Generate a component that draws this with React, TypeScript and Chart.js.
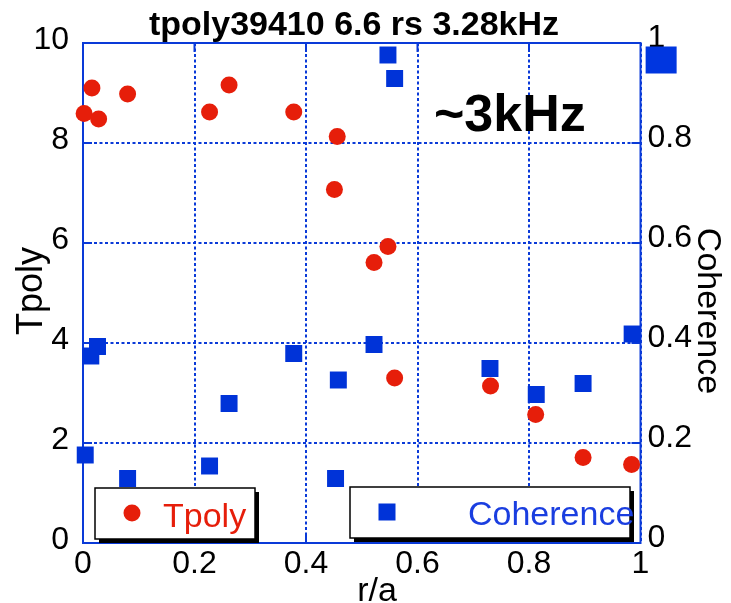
import React, { useEffect, useRef } from 'react';
import { Chart, registerables } from 'chart.js';

Chart.register(...registerables);

// r/a positions and values
const tpolyR = [0.002, 0.016, 0.028, 0.08, 0.227, 0.262, 0.378, 0.456, 0.451, 0.547, 0.522, 0.559, 0.731, 0.812, 0.897, 0.984];
const tpolyValues = [8.59, 9.1, 8.48, 8.98, 8.62, 9.16, 8.62, 8.13, 7.07, 5.93, 5.61, 3.3, 3.14, 2.57, 1.71, 1.57];

const cohR = [0.014, 0.026, 0.004, 0.08, 0.227, 0.262, 0.378, 0.458, 0.453, 0.522, 0.73, 0.813, 0.897, 0.985, 0.547, 0.559];
const cohValues = [0.374, 0.393, 0.176, 0.129, 0.154, 0.279, 0.379, 0.326, 0.129, 0.397, 0.349, 0.297, 0.319, 0.418, 0.976, 0.929];

// stray large marker just outside the right frame
const strayR = [1.037];
const strayValues = [0.966];

const xTicks = [0, 0.2, 0.4, 0.6, 0.8, 1];
const xTickLabels = ['0', '0.2', '0.4', '0.6', '0.8', '1'];
const yTicks = [0, 2, 4, 6, 8, 10];
const yTickLabels = ['0', '2', '4', '6', '8', '10'];
const y2Ticks = [0, 0.2, 0.4, 0.6, 0.8, 1];
const y2TickLabels = ['0', '0.2', '0.4', '0.6', '0.8', '1'];

const titleText = 'tpoly39410 6.6 rs 3.28kHz';
const annotationText = '~3kHz';
const xTitle = 'r/a';
const yTitle = 'Tpoly';
const y2Title = 'Coherence';

const RED = '#e61e0a';
const BLUE = '#0033d8';
const LINE_BLUE = '#0a3ad8';
const FONT = '"Liberation Sans", Arial, Helvetica, sans-serif';

const decorPlugin = {
  id: 'decor',
  beforeDatasetsDraw(chart: any) {
    const { ctx, chartArea: a, scales } = chart;
    ctx.save();
    ctx.strokeStyle = LINE_BLUE;
    ctx.lineWidth = 2;
    ctx.setLineDash([]);
    ctx.strokeRect(a.left, a.top, a.right - a.left, a.bottom - a.top);
    const tl = 9;
    ctx.beginPath();
    xTicks.slice(1, -1).forEach((v) => {
      const px = scales.x.getPixelForValue(v);
      ctx.moveTo(px, a.bottom);
      ctx.lineTo(px, a.bottom - tl);
      ctx.moveTo(px, a.top);
      ctx.lineTo(px, a.top + tl);
    });
    yTicks.slice(1, -1).forEach((v) => {
      const py = scales.y.getPixelForValue(v);
      ctx.moveTo(a.left, py);
      ctx.lineTo(a.left + tl, py);
    });
    y2Ticks.slice(1, -1).forEach((v) => {
      const py = scales.y2.getPixelForValue(v);
      ctx.moveTo(a.right, py);
      ctx.lineTo(a.right - tl, py);
    });
    ctx.stroke();
    ctx.restore();
  },
  afterDraw(chart: any) {
    const { ctx, scales } = chart;
    ctx.save();
    // stray marker outside the frame (positioned through the chart's scales)
    ctx.fillStyle = '#0036e0';
    strayR.forEach((r, i) => {
      const px = scales.x.getPixelForValue(r);
      const py = scales.y2.getPixelForValue(strayValues[i]);
      ctx.fillRect(px - 15.5, py - 13.5, 31, 27);
    });
    // title
    ctx.fillStyle = '#000';
    ctx.font = `bold 34px ${FONT}`;
    ctx.textAlign = 'center';
    ctx.textBaseline = 'alphabetic';
    ctx.fillText(titleText, 354, 35);
    // annotation
    ctx.font = `bold 52px ${FONT}`;
    ctx.textAlign = 'left';
    ctx.fillText(annotationText, 434, 131);
    // x title
    ctx.font = `34px ${FONT}`;
    ctx.textAlign = 'center';
    ctx.fillText(xTitle, 377, 601);
    // y title
    ctx.save();
    ctx.translate(42, 291);
    ctx.rotate(-Math.PI / 2);
    ctx.font = `36px ${FONT}`;
    ctx.fillText(yTitle, 0, 0);
    ctx.restore();
    // y2 title
    ctx.save();
    ctx.translate(698, 311);
    ctx.rotate(Math.PI / 2);
    ctx.font = `34px ${FONT}`;
    ctx.fillText(y2Title, 0, 0);
    ctx.restore();

    // legend boxes
    const box = (x: number, y: number, w: number, h: number) => {
      ctx.fillStyle = '#000';
      ctx.fillRect(x + 4, y + 4, w, h);
      ctx.fillStyle = '#fff';
      ctx.fillRect(x, y, w, h);
      ctx.strokeStyle = '#000';
      ctx.lineWidth = 1.5;
      ctx.strokeRect(x, y, w, h);
    };
    box(95, 488, 160, 51);
    box(350, 487, 280, 51);
    ctx.fillStyle = RED;
    ctx.beginPath();
    ctx.arc(132, 513, 8.5, 0, Math.PI * 2);
    ctx.fill();
    ctx.font = `34px ${FONT}`;
    ctx.textAlign = 'left';
    ctx.fillText(yTitle, 163, 527);
    ctx.fillStyle = BLUE;
    ctx.fillRect(378.5, 503.5, 17, 17);
    ctx.fillStyle = '#1a3ee0';
    ctx.fillText(y2Title, 468, 525);
    ctx.restore();
  },
};

export default function App() {
  const ref = useRef<HTMLCanvasElement>(null);
  useEffect(() => {
    document.body.style.margin = '0';
    const canvas = ref.current!;
    const chart = new Chart(canvas, {
      type: 'scatter',
      data: {
        datasets: [
          {
            label: 'Tpoly',
            data: tpolyR.map((x, i) => ({ x, y: tpolyValues[i] })),
            yAxisID: 'y',
            pointStyle: 'circle',
            pointRadius: 8.5,
            pointHoverRadius: 8.5,
            backgroundColor: RED,
            borderWidth: 0,
            clip: false as any,
          },
          {
            label: 'Coherence',
            data: cohR.map((x, i) => ({ x, y: cohValues[i] })),
            yAxisID: 'y2',
            pointStyle: 'rect',
            pointRadius: 12,
            pointHoverRadius: 12,
            backgroundColor: BLUE,
            borderWidth: 0,
            clip: false as any,
          },
        ],
      },
      options: {
        responsive: false,
        animation: false,
        devicePixelRatio: 1,
        layout: { padding: { top: 43, left: 0, right: 0, bottom: 0 } },
        plugins: { legend: { display: false }, title: { display: false }, tooltip: { enabled: false } },
        scales: {
          x: {
            type: 'linear',
            min: 0,
            max: 1,
            afterFit: (s: any) => { s.height = 60; },
            afterBuildTicks: (s: any) => { s.ticks = xTicks.map((v) => ({ value: v })); },
            ticks: {
              callback: (v: any) => xTickLabels[xTicks.indexOf(Number(v))] ?? '',
              font: { family: FONT, size: 32 },
              color: '#000',
              padding: 2,
              maxRotation: 0,
              autoSkip: false,
            },
            grid: { color: LINE_BLUE, lineWidth: 2, drawTicks: false },
            border: { display: false, dash: [3, 2.5] },
          },
          y: {
            type: 'linear',
            position: 'left',
            min: 0,
            max: 10,
            afterFit: (s: any) => { s.width = 83; },
            afterBuildTicks: (s: any) => { s.ticks = yTicks.map((v) => ({ value: v })); },
            ticks: {
              callback: (v: any) => yTickLabels[yTicks.indexOf(Number(v))] ?? '',
              font: { family: FONT, size: 32 },
              color: '#000',
              padding: 14,
              labelOffset: -3,
            },
            grid: { color: LINE_BLUE, lineWidth: 2, drawTicks: false },
            border: { display: false, dash: [3, 2.5] },
          },
          y2: {
            type: 'linear',
            position: 'right',
            min: 0,
            max: 1,
            afterFit: (s: any) => { s.width = 90.5; },
            afterBuildTicks: (s: any) => { s.ticks = y2Ticks.map((v) => ({ value: v })); },
            ticks: {
              callback: (v: any) => y2TickLabels[y2Ticks.indexOf(Number(v))] ?? '',
              font: { family: FONT, size: 32 },
              color: '#000',
              padding: 7,
              labelOffset: -5,
            },
            grid: { display: false, drawTicks: false },
            border: { display: false },
          },
        },
      },
      plugins: [decorPlugin],
    });
    return () => chart.destroy();
  }, []);
  return (
    <div style={{ width: 731, height: 603, background: '#fff' }}>
      <canvas ref={ref} width={731} height={603} style={{ display: 'block' }} />
    </div>
  );
}
